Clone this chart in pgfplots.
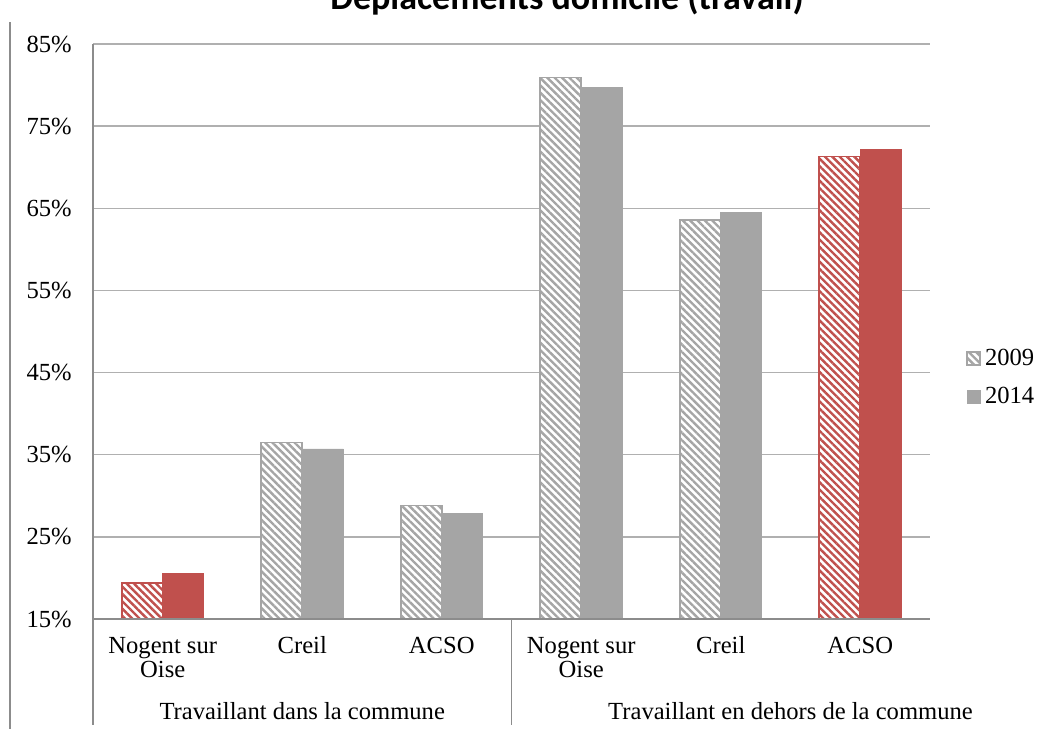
\documentclass[border=0pt]{standalone}
\usepackage{fontspec}
\setmainfont{Liberation Serif}
\newfontfamily\titlefont{Carlito}
\usepackage{pgfplots}
\pgfplotsset{compat=1.18}
\usetikzlibrary{patterns.meta}
\definecolor{barGray}{HTML}{A5A5A5}
\definecolor{barRed}{HTML}{C0504D}
\definecolor{gridGray}{HTML}{B0B0B0}
\definecolor{axisGray}{HTML}{8C8C8C}
\tikzset{
  hatchGray/.style={fill=white, draw=barGray, line width=0.8pt,
    postaction={pattern={Lines[angle=-45,distance=2.6pt,line width=1.2pt]}, pattern color=barGray}},
  hatchRed/.style={fill=white, draw=barRed, line width=0.8pt,
    postaction={pattern={Lines[angle=-45,distance=2.6pt,line width=1.2pt]}, pattern color=barRed}},
}
\begin{document}
\begin{tikzpicture}
\path[use as bounding box] (0,0) rectangle (521pt,-364.5pt);
\node[font=\titlefont\bfseries\fontsize{18}{20}\selectfont, anchor=base] at (283.5pt,-4.5pt) {Déplacements domicile (travail)};
\draw[axisGray, line width=1pt] (5pt,-11pt) -- (5pt,-364.5pt);
\begin{axis}[
  at={(46.5pt,-309.5pt)}, anchor=south west,
  width=418.5pt, height=287.5pt, scale only axis,
  clip mode=individual,
  ymin=15, ymax=85, xmin=-0.5, xmax=5.5,
  ytick={15,25,...,85},
  yticklabel={\pgfmathprintnumber{\tick}\%},
  xtick={0,...,5},
  xticklabels={{Nogent sur\\Oise},{Creil\\\mbox{}},{ACSO\\\mbox{}},{Nogent sur\\Oise},{Creil\\\mbox{}},{ACSO\\\mbox{}}},
  xticklabel style={align=center, font=\fontsize{12.3}{11.6}\selectfont, inner sep=0pt, anchor=base, yshift=-29pt},
  yticklabel style={font=\fontsize{12.3}{14}\selectfont, inner sep=0pt, xshift=-10.5pt},
  /pgf/number format/assume math mode=true,
  major tick length=0pt,
  axis line style={draw=none},
  ymajorgrids, grid style={gridGray, line width=0.75pt},
  ybar, bar width=20.5pt,
  legend style={at={(1.043,0.42)}, anchor=west, draw=none, fill=none,
    font=\fontsize{12.3}{14}\selectfont, row sep=5.5pt, inner sep=0pt,
    /tikz/every even column/.append style={column sep=3pt}},
  legend cell align=left,
  legend image code/.code={\draw[#1] (0pt,-3.25pt) rectangle (6.5pt,3.25pt);},
]
\addplot[bar shift=-10.25pt, hatchGray] coordinates {(1,36.5) (2,28.8) (3,80.9) (4,63.6)};
\addplot[bar shift=10.25pt, fill=barGray, draw=barGray] coordinates {(1,35.7) (2,27.9) (3,79.7) (4,64.5)};
\addplot[bar shift=-10.25pt, hatchRed, forget plot] coordinates {(0,19.4) (5,71.3)};
\addplot[bar shift=10.25pt, fill=barRed, draw=barRed, forget plot] coordinates {(0,20.5) (5,72.2)};
\legend{2009,2014}
\draw[axisGray, line width=0.75pt] (rel axis cs:0,0) -- (rel axis cs:1,0);
\draw[axisGray, line width=0.75pt] (rel axis cs:0,1) -- (rel axis cs:0,0) -- ++(0pt,-53pt);
\draw[axisGray, line width=0.75pt] (axis cs:2.5,15) -- ++(0pt,-53pt);
\node[anchor=base, font=\fontsize{12.3}{14}\selectfont, yshift=-50pt] at (axis cs:1,15) {Travaillant dans la commune};
\node[anchor=base, font=\fontsize{12.3}{14}\selectfont, yshift=-50pt] at (axis cs:4.5,15) {Travaillant en dehors de la commune};
\end{axis}
\end{tikzpicture}
\end{document}
